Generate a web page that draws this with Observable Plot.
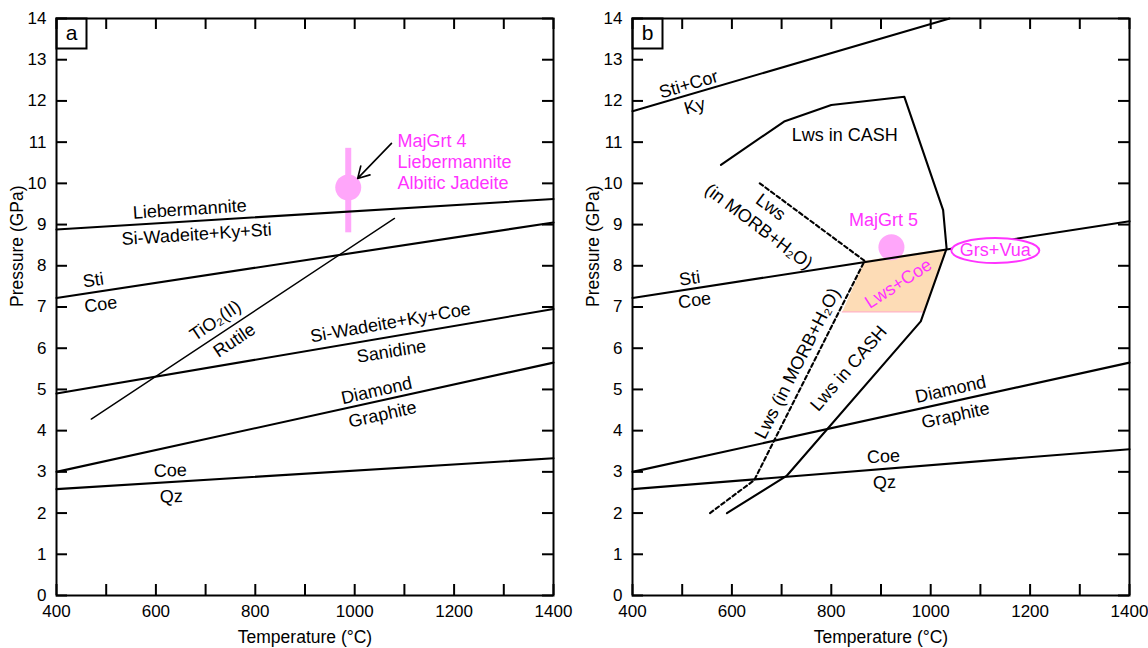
<!DOCTYPE html>
<html><head><meta charset="utf-8">
<script src="https://cdn.jsdelivr.net/npm/d3@7"></script>
<script src="https://cdn.jsdelivr.net/npm/@observablehq/plot@0.6"></script>
<style>
body{margin:0;background:#fff;}
#wrap{display:flex;width:1148px;height:648px;overflow:hidden;}
</style></head><body><div id="wrap"></div>
<script>
// ---------- axes ----------
const tempTicks = d3.range(400, 1401, 100);
const tempLabels = [400, 600, 800, 1000, 1200, 1400];
const pressTicks = d3.range(0, 15, 1);

// ---------- panel a boundaries [T (°C), P (GPa)] ----------
const aLieb = [[400, 8.88], [1400, 9.62]];
const aStiCoe = [[400, 7.22], [1400, 9.05]];
const aSanidine = [[400, 4.9], [1400, 6.95]];
const aDiamond = [[400, 3.0], [1400, 5.65]];
const aCoeQz = [[400, 2.58], [1400, 3.33]];
const aRutile = [[470, 4.28], [1080, 9.15]];
const aMajGrt4 = [{T: 987, P: 9.9, Plo: 8.8, Phi: 10.85}];
const aArrow = [{T1: 1074, P1: 10.97, T2: 1006, P2: 10.12}];
const aLabels = [
  {t: "Liebermannite", T: 668, P: 9.37, r: -3.7},
  {t: "Si-Wadeite+Ky+Sti", T: 682, P: 8.76, r: -3.7},
  {t: "Sti", T: 474, P: 7.65, r: -8},
  {t: "Coe", T: 489, P: 7.06, r: -8},
  {t: "TiO₂(II)", T: 720, P: 6.67, r: -34},
  {t: "Rutile", T: 758, P: 6.19, r: -34},
  {t: "Si-Wadeite+Ky+Coe", T: 1072, P: 6.62, r: -10},
  {t: "Sanidine", T: 1074, P: 5.92, r: -9},
  {t: "Diamond", T: 1044, P: 4.97, r: -12.6},
  {t: "Graphite", T: 1056, P: 4.39, r: -12.6},
  {t: "Coe", T: 629, P: 3.03, r: -2},
  {t: "Qz", T: 631, P: 2.40, r: -2}
];
const aPink = [{t: "MajGrt 4\nLiebermannite\nAlbitic Jadeite", T: 1086, P: 10.53}];

// ---------- panel b boundaries ----------
const bStiCor = [[400, 11.75], [1038, 14.0]];
const bStiCoe = [[400, 7.22], [1400, 9.08]];
const bDiamond = [[400, 3.0], [1400, 5.65]];
const bCoeQz = [[400, 2.58], [1400, 3.55]];
const bLwsCASH = [[590, 2.0], [710, 2.9], [980, 6.65], [1032, 8.42], [1025, 9.35],
                  [947, 12.1], [800, 11.9], [705, 11.5], [578, 10.45]];
const bLwsMORB = [[556, 2.0], [645, 2.8], [867, 8.12], [654, 10.02]];
const bLwsCoe = [[822, 6.88], [867, 8.12], [1032, 8.42], [985, 6.88]];
const bLwsCoeBase = [[822, 6.88], [985, 6.88]];
const bMajGrt5 = [{T: 921, P: 8.45}];
const bGrsVua = [{T: 1130, P: 8.37, t: "Grs+Vua"}];
const bLabels = [
  {t: "Sti+Cor", T: 513, P: 12.40, r: -16.4},
  {t: "Ky", T: 525, P: 11.87, r: -16.4},
  {t: "Lws in CASH", T: 827, P: 11.16, r: 0},
  {t: "Lws", T: 678, P: 9.42, r: 37},
  {t: "(in MORB+H₂O)", T: 654, P: 8.95, r: 37},
  {t: "Sti", T: 515, P: 7.69, r: -8},
  {t: "Coe", T: 525, P: 7.16, r: -8},
  {t: "Lws (in MORB+H₂O)", T: 732, P: 5.63, r: -63},
  {t: "Lws in CASH", T: 835, P: 5.51, r: -49},
  {t: "Diamond", T: 1040, P: 5.0, r: -12.6},
  {t: "Graphite", T: 1050, P: 4.37, r: -12.6},
  {t: "Coe", T: 905, P: 3.37, r: -3},
  {t: "Qz", T: 907, P: 2.74, r: -3}
];
const bPink = [
  {t: "MajGrt 5", T: 905, P: 9.10, r: 0},
  {t: "Lws+Coe", T: 935, P: 7.57, r: -33}
];

// ---------- styling ----------
const MAG = "#ff33ff";
const PINK = "#ffa6fa";
const FONT = "'Liberation Sans', Arial, Helvetica, sans-serif";
const W = 574, H = 648, MT = 18, MB = 53;
const innerH = H - MT - MB;

const ellipse = {
  draw(ctx) {
    const rx = 44, ry = 12.5, k = 0.5523;
    ctx.moveTo(rx, 0);
    ctx.bezierCurveTo(rx, ry * k, rx * k, ry, 0, ry);
    ctx.bezierCurveTo(-rx * k, ry, -rx, ry * k, -rx, 0);
    ctx.bezierCurveTo(-rx, -ry * k, -rx * k, -ry, 0, -ry);
    ctx.bezierCurveTo(rx * k, -ry, rx, -ry * k, rx, 0);
    ctx.closePath();
  }
};

const L = (data, o = {}) => Plot.line(data, {x: d => d[0], y: d => d[1], stroke: "#000", strokeWidth: 2.1, ...o});
const labels = (data, color = "#000") => Plot.text(data, {x: "T", y: "P", text: "t", rotate: "r", fill: color, fontSize: 18, textAnchor: "middle", lineAnchor: "middle"});

function frameMarks(letter, innerW) {
  return [
    Plot.tickX(tempTicks, {x: d => d, insetTop: innerH - 11, strokeWidth: 2}),
    Plot.tickX(tempTicks, {x: d => d, insetBottom: innerH - 11, strokeWidth: 2}),
    Plot.tickY(pressTicks, {y: d => d, insetRight: innerW - 11, strokeWidth: 2}),
    Plot.tickY(pressTicks, {y: d => d, insetLeft: innerW - 11, strokeWidth: 2}),
    Plot.axisX(tempLabels, {anchor: "bottom", tickSize: 0, tickPadding: 9, label: null, fontSize: 17, tickFormat: d => String(d)}),
    Plot.axisY(pressTicks, {anchor: "left", tickSize: 0, tickPadding: 10, label: null, fontSize: 17, tickFormat: d => String(d)}),
    Plot.text(["Temperature (°C)"], {frameAnchor: "bottom", dy: 42, lineAnchor: "middle", fontSize: 17.5}),
    Plot.text(["Pressure (GPa)"], {frameAnchor: "left", dx: -39, rotate: -90, lineAnchor: "middle", fontSize: 17.5}),
    Plot.frame({stroke: "#000", strokeWidth: 2}),
    Plot.frame({stroke: "#000", strokeWidth: 2, insetRight: innerW - 30, insetBottom: innerH - 30}),
    Plot.text([letter], {frameAnchor: "top-left", dx: 15, dy: 15, fontSize: 21, textAnchor: "middle", lineAnchor: "middle"})
  ];
}

function plotA() {
  const ml = 56, mr = 21, innerW = W - ml - mr;
  return Plot.plot({
    width: W, height: H, marginLeft: ml, marginRight: mr, marginTop: MT, marginBottom: MB,
    x: {domain: [400, 1400]}, y: {domain: [0, 14]},
    style: {fontFamily: FONT, fontSize: "17px", color: "#000", background: "#fff"},
    marks: [
      Plot.ruleX(aMajGrt4, {x: "T", y1: "Plo", y2: "Phi", stroke: PINK, strokeWidth: 6}),
      Plot.dot(aMajGrt4, {x: "T", y: "P", r: 13, fill: PINK}),
      L(aLieb), L(aStiCoe), L(aSanidine), L(aDiamond), L(aCoeQz),
      L(aRutile, {strokeWidth: 1.4}),
      Plot.arrow(aArrow, {x1: "T1", y1: "P1", x2: "T2", y2: "P2", stroke: "#000", strokeWidth: 1.6, headLength: 12}),
      labels(aLabels),
      Plot.text(aPink, {x: "T", y: "P", text: "t", fill: MAG, fontSize: 18, textAnchor: "start", lineAnchor: "middle", lineHeight: 1.17}),
      ...frameMarks("a", innerW)
    ]
  });
}

function plotB() {
  const ml = 58, mr = 19, innerW = W - ml - mr;
  return Plot.plot({
    width: W, height: H, marginLeft: ml, marginRight: mr, marginTop: MT, marginBottom: MB,
    x: {domain: [400, 1400]}, y: {domain: [0, 14]},
    style: {fontFamily: FONT, fontSize: "17px", color: "#000", background: "#fff"},
    marks: [
      Plot.line(bLwsCoe, {x: d => d[0], y: d => d[1], fill: "#fddcb6", stroke: "none", curve: "linear-closed"}),
      L(bLwsCoeBase, {stroke: "#ffb4c8", strokeWidth: 1.2}),
      Plot.dot(bMajGrt5, {x: "T", y: "P", r: 13, fill: PINK}),
      L(bStiCor), L(bStiCoe), L(bDiamond), L(bCoeQz),
      L(bLwsCASH),
      L(bLwsMORB, {strokeDasharray: "4,3"}),
      Plot.dot(bGrsVua, {x: "T", y: "P", symbol: ellipse, r: 10, stroke: MAG, fill: "#fff", strokeWidth: 2}),
      Plot.text(bGrsVua, {x: "T", y: "P", text: "t", fill: MAG, fontSize: 18, textAnchor: "middle", lineAnchor: "middle"}),
      labels(bLabels),
      labels(bPink, MAG),
      ...frameMarks("b", innerW)
    ]
  });
}

const wrap = document.getElementById("wrap");
wrap.appendChild(plotA());
wrap.appendChild(plotB());
</script>
</body></html>
